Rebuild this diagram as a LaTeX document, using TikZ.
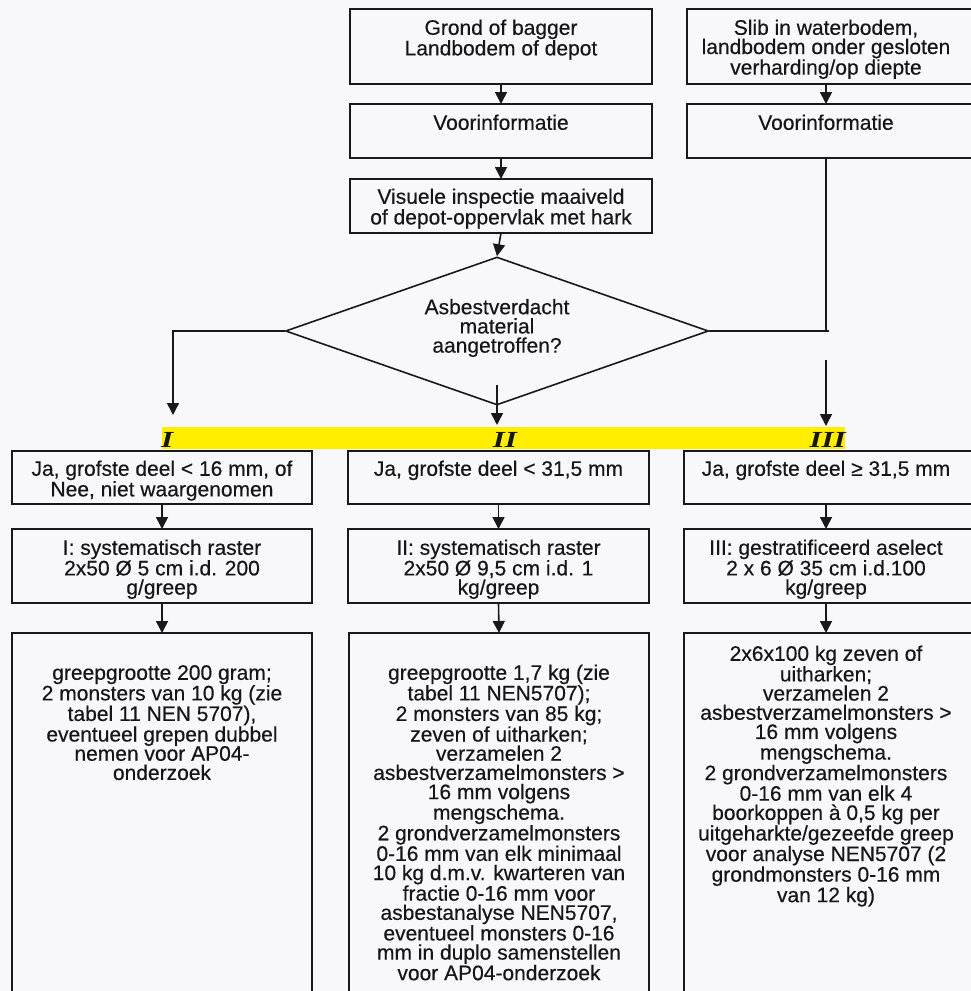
\documentclass[tikz,border=0pt]{standalone}
\usepackage{fontspec}
\setmainfont[FakeBold=0.35]{Liberation Sans}
\newfontfamily\labfont[FakeStretch=1.35]{Liberation Serif}
\usetikzlibrary{arrows.meta,shapes.geometric}
\definecolor{bgc}{RGB}{248,248,251}
\definecolor{bandc}{RGB}{255,238,0}
\definecolor{tc}{RGB}{22,22,22}
\definecolor{lc}{RGB}{25,25,25}
\newcommand{\firstln}{\rule{0pt}{16pt}}
\begin{document}
\begin{tikzpicture}[x=1pt,y=-1pt,
  bx/.style={draw=lc, line width=1.6pt, inner sep=0pt, outer sep=0pt, anchor=north west},
  tx/.style={font=\fontsize{21}{19.2}\selectfont, align=center, inner sep=0pt, text=tc, anchor=north},
  ln/.style={draw=lc, line width=1.6pt},
  arr/.style={ln, -{Triangle[length=12pt,width=12pt]}},
  lab/.style={font=\labfont\bfseries\itshape\fontsize{23}{23}\selectfont, inner sep=0pt, text=tc}]
\useasboundingbox (0,0) rectangle (971,991);
\clip (0,0) rectangle (971,991);
\fill[bgc] (0,0) rectangle (971,991);

% column helpers
\coordinate (xr) at (826,0);

% top boxes
\node[bx, minimum width=302pt, minimum height=75pt] (A) at (350,9) {};
\node[tx] (At) at ([yshift=-9.6pt]A.north) {\firstln Grond of bagger\\Landbodem of depot};
\node[bx, minimum width=290pt, minimum height=75pt] (B) at (687,9) {};
\node[tx] (Bt) at ([yshift=-9.6pt]B.north -| xr) {\firstln Slib in waterbodem,\\landbodem onder gesloten\\verharding/op diepte};

\node[bx, minimum width=302pt, minimum height=54pt] (VA) at (350,104) {};
\node[tx] (VAt) at ([yshift=-9.6pt]VA.north) {\firstln Voorinformatie};
\node[bx, minimum width=290pt, minimum height=54pt] (VB) at (687,104) {};
\node[tx] (VBt) at ([yshift=-9.6pt]VB.north -| xr) {\firstln Voorinformatie};

\node[bx, minimum width=302pt, minimum height=54pt] (VI) at (350,179) {};
\node[tx] (VIt) at ([yshift=-8.6pt]VI.north) {\firstln Visuele inspectie maaiveld\\of depot-oppervlak met hark};

% decision
\node[draw=lc, line width=1.6pt, diamond, minimum width=423pt, minimum height=148pt, inner sep=0pt] (D) at (497,331) {};
\node[tx, anchor=center] (Dt) at (497,328) {Asbestverdacht\\material\\aangetroffen?};

% yellow band
\node[fill=bandc, minimum width=683pt, minimum height=22pt, inner sep=0pt, outer sep=0pt, anchor=north west] (band) at (162,427) {};
\node[lab, anchor=base west] (LI) at (161,447) {I};
\node[lab, anchor=base] (LII) at (505,447) {II};
\node[lab, anchor=base east] (LIII) at (846,447) {III};

% row 1
\node[bx, minimum width=300pt, minimum height=53pt] (R1L) at (12,451) {};
\node[tx] (R1Lt) at ([yshift=-8.6pt]R1L.north) {\firstln Ja, grofste deel < 16 mm, of\\Nee, niet waargenomen};
\node[bx, minimum width=301pt, minimum height=53pt] (R1M) at (348,451) {};
\node[tx] (R1Mt) at ([yshift=-8.6pt]R1M.north) {\firstln Ja, grofste deel < 31,5 mm};
\node[bx, minimum width=295pt, minimum height=53pt] (R1R) at (684,451) {};
\node[tx] (R1Rt) at ([yshift=-8.6pt]R1R.north -| xr) {\firstln Ja, grofste deel ≥ 31,5 mm};

% row 2
\node[bx, minimum width=300pt, minimum height=74pt] (R2L) at (12,529) {};
\node[tx] (R2Lt) at ([yshift=-9.6pt]R2L.north) {\firstln I: systematisch raster\\2x50 Ø 5 cm i.d. 200\\g/greep};
\node[bx, minimum width=301pt, minimum height=74pt] (R2M) at (348,529) {};
\node[tx] (R2Mt) at ([yshift=-9.6pt]R2M.north) {\firstln II: systematisch raster\\2x50 Ø 9,5 cm i.d. 1\\kg/greep};
\node[bx, minimum width=295pt, minimum height=74pt] (R2R) at (684,529) {};
\node[tx] (R2Rt) at ([yshift=-9.6pt]R2R.north -| xr) {\firstln III: gestratificeerd aselect\\2 x 6 Ø 35 cm i.d.100\\kg/greep};

% row 3
\node[bx, minimum width=300pt, minimum height=420pt] (R3L) at (12,633) {};
\node[tx] (R3Lt) at ([yshift=-30.6pt]R3L.north) {\firstln greepgrootte 200 gram;\\2 monsters van 10 kg (zie\\tabel 11 NEN 5707),\\eventueel grepen dubbel\\nemen voor AP04-\\onderzoek};
\node[bx, minimum width=300pt, minimum height=420pt] (R3M) at (349,633) {};
\node[tx] (R3Mt) at ([yshift=-30.6pt]R3M.north) {\firstln greepgrootte 1,7 kg (zie\\tabel 11 NEN5707);\\2 monsters van 85 kg;\\zeven of uitharken;\\verzamelen 2\\asbestverzamelmonsters >\\16 mm volgens\\mengschema.\\2 grondverzamelmonsters\\0-16 mm van elk minimaal\\10 kg d.m.v. kwarteren van\\fractie 0-16 mm voor\\asbestanalyse NEN5707,\\eventueel monsters 0-16\\mm in duplo samenstellen\\voor AP04-onderzoek};
\node[bx, minimum width=295pt, minimum height=420pt] (R3R) at (684,633) {};
\node[tx] (R3Rt) at ([yshift=-11.6pt]R3R.north -| xr) {\firstln 2x6x100 kg zeven of\\uitharken;\\verzamelen 2\\asbestverzamelmonsters >\\16 mm volgens\\mengschema.\\2 grondverzamelmonsters\\0-16 mm van elk 4\\boorkoppen à 0,5 kg per\\uitgeharkte/gezeefde greep\\voor analyse NEN5707 (2\\grondmonsters 0-16 mm\\van 12 kg)};

% connectors top
\draw[arr] (A.south) -- (VA.north);
\draw[arr] (B.south -| xr) -- (VB.north -| xr);
\draw[arr] (VA.south) -- (VI.north);
\draw[arr] (VI.south) -- (D.north);

% decision outputs
\coordinate (cI) at (173,415);
\coordinate (cII) at (497,425);
\coordinate (jR) at (826,331);
\coordinate (jRe) at (829,331);
\coordinate (cIIIs) at (826,360);
\coordinate (cIII) at (826,426);
\draw[arr] (D.west) -| (cI);
\draw[arr] ([yshift=21pt]D.south) -- (cII);
\draw[ln] (VB.south -| xr) -- (jR);
\draw[ln] (D.east) -- (jRe);
\draw[arr] (cIIIs) -- (cIII);

% row connectors
\draw[arr] (R1L.south) -- (R2L.north);
\draw[arr] (R1M.south) -- (R2M.north);
\draw[arr] (R1R.south -| xr) -- (R2R.north -| xr);
\draw[arr] (R2L.south) -- (R3L.north);
\draw[arr] (R2M.south) -- (R3M.north);
\draw[arr] (R2R.south -| xr) -- (R3R.north -| xr);
\end{tikzpicture}
\end{document}
